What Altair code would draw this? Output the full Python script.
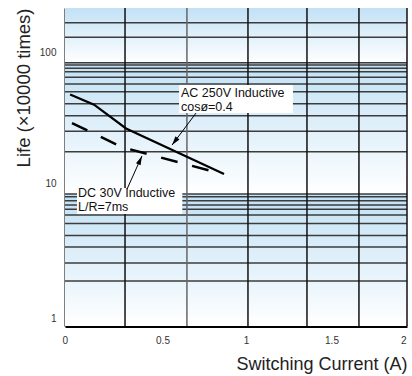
import altair as alt
import pandas as pd

# ---- axes ----
x_ticks = [0, 0.5, 1, 1.5, 2]
y_ticks = [1, 10, 100]
x_domain = [0, 2]
y_domain = [0.81, 217]

# ---- curves ----
ac_current = [0.03, 0.17, 0.357, 0.93]
ac_life = [47.5, 39.7, 26.1, 11.7]
dc_current = [0.041, 0.333, 0.924]
dc_life = [28.7, 18.8, 11.7]

# ---- grid ----
v_grid = [0.351, 0.713, 1.07, 1.415, 1.719, 2.0]
h_grid = [167.4, 129.5, 82.8, 79.6, 75.1, 70.7, 64.1, 57.0, 49.8, 40.3, 32.6, 24.9, 17.3,
          8.24, 7.86, 7.32, 6.79, 6.30, 5.70, 4.92, 3.97, 3.25, 2.45, 1.79]
band_top = [217, 82.8, 8.24]
band_bottom = [82.8, 8.24, 0.81]

# ---- annotations ----
ac_label = ["AC 250V Inductive", "cosø=0.4"]
dc_label = ["DC 30V Inductive", "L/R=7ms"]
ac_label_x = 0.678
ac_label_y = 45.3
dc_label_x = 0.076
dc_label_y = 7.89
ac_box = [0.667, 1.333, 56.0, 34.2]
dc_box = [0.070, 0.686, 9.16, 5.8]
ac_arrow_x = [0.766, 0.626]
ac_arrow_y = [34.2, 19.5]
dc_arrow_x = [0.363, 0.450]
dc_arrow_y = [9.0, 16.1]

FONT = "Liberation Sans"
W, H = 342, 318

xs = alt.Scale(domain=x_domain, nice=False, zero=False)
ys = alt.Scale(type="log", domain=y_domain, nice=False)

xaxis = alt.Axis(
    values=x_ticks, format="~g", grid=False, ticks=False,
    labelFont=FONT, labelFontSize=10, labelColor="#333", labelPadding=9,
    labelOffset={"expr": "datum.value==0?-3:datum.value==0.5?12:datum.value==1?10:datum.value==1.5?10:-1"},
    domainColor="#000", domainWidth=3,
    title="Switching Current (A)", titleFont=FONT, titleFontSize=18,
    titleFontWeight="normal", titleColor="#222", titleAnchor="end", titlePadding=10,
)
yaxis = alt.Axis(
    values=y_ticks, format="~g", grid=False, ticks=False,
    labelFont=FONT, labelFontSize=10, labelColor="#333", labelPadding=9,
    labelOffset={"expr": "datum.value==1?4:0"},
    domainColor="#000", domainWidth=2,
    title="Life (×10000 times)", titleFont=FONT, titleFontSize=18.5,
    titleFontWeight="normal", titleColor="#222", titleAnchor="end", titlePadding=6,
)


def X(f):
    return alt.X(f, type="quantitative", scale=xs, axis=xaxis)


def Y(f):
    return alt.Y(f, type="quantitative", scale=ys, axis=yaxis)


bands = pd.DataFrame({
    "x0": [x_domain[0]] * 3, "x1": [x_domain[1]] * 3,
    "top": band_top, "bottom": band_bottom,
})
grad = {
    "gradient": "linear", "x1": 0, "y1": 0, "x2": 0, "y2": 1,
    "stops": [{"offset": 0, "color": "#c2e1f5"}, {"offset": 1, "color": "#ffffff"}],
}
band_layer = alt.Chart(bands).mark_rect(fill=grad, strokeWidth=0).encode(
    x=X("x0"), x2=alt.X2("x1"), y=Y("top"), y2=alt.Y2("bottom")
)

hgrid_layer = alt.Chart(pd.DataFrame({"h": h_grid})).mark_rule(
    color="#3c3c3c", strokeWidth=1.5
).encode(y=Y("h"))

vgrid_layer = alt.Chart(pd.DataFrame({"v": v_grid})).mark_rule(strokeWidth=1.5).encode(
    x=X("v"),
    color=alt.condition("datum.v == 0.713", alt.value("#666"), alt.value("#111")),
)

boxes = pd.DataFrame({
    "bx0": [ac_box[0], dc_box[0]], "bx1": [ac_box[1], dc_box[1]],
    "by0": [ac_box[2], dc_box[2]], "by1": [ac_box[3], dc_box[3]],
})
box_layer = alt.Chart(boxes).mark_rect(fill="white", strokeWidth=0).encode(
    x=X("bx0"), x2=alt.X2("bx1"), y=Y("by0"), y2=alt.Y2("by1")
)

ac_df = pd.DataFrame({"cur": ac_current, "life": ac_life})
ac_layer = alt.Chart(ac_df).mark_line(color="#000", strokeWidth=2.2).encode(
    x=X("cur"), y=Y("life")
)
dc_df = pd.DataFrame({"cur": dc_current, "life": dc_life})
dc_layer = alt.Chart(dc_df).mark_line(
    color="#000", strokeWidth=2.5, strokeDash=[17, 15], strokeCap="butt"
).encode(x=X("cur"), y=Y("life"))

arrows = pd.DataFrame({
    "ax": ac_arrow_x + dc_arrow_x,
    "ay": ac_arrow_y + dc_arrow_y,
    "id": ["ac", "ac", "dc", "dc"],
    "o": [0, 1, 0, 1],
})
arrow_lines = alt.Chart(arrows).mark_line(color="#000", strokeWidth=1).encode(
    x=X("ax"), y=Y("ay"), detail="id:N", order="o:Q"
)
head_shape = "M0,0L-0.28,1L0.28,1Z"
ac_head = alt.Chart(pd.DataFrame({"ax": [ac_arrow_x[1]], "ay": [ac_arrow_y[1]]})).mark_point(
    shape=head_shape, filled=True, color="#000", size=324, angle=217, opacity=1
).encode(x=X("ax"), y=Y("ay"))
dc_head = alt.Chart(pd.DataFrame({"ax": [dc_arrow_x[1]], "ay": [dc_arrow_y[1]]})).mark_point(
    shape=head_shape, filled=True, color="#000", size=324, angle=24, opacity=1
).encode(x=X("ax"), y=Y("ay"))

texts = pd.DataFrame({
    "tx": [ac_label_x, dc_label_x],
    "ty": [ac_label_y, dc_label_y],
    "t": [ac_label, dc_label],
})
text_layer = alt.Chart(texts).mark_text(
    align="left", baseline="alphabetic", font=FONT, fontSize=12.5, lineHeight=14, color="#111"
).encode(x=X("tx"), y=Y("ty"), text="t")

chart = alt.layer(
    band_layer, hgrid_layer, vgrid_layer, box_layer,
    ac_layer, dc_layer, arrow_lines, ac_head, dc_head, text_layer,
).properties(
    width=W, height=H,
    autosize="none",
    padding={"left": 65, "top": 8, "right": 5, "bottom": 50},
    background="white",
).configure_view(stroke=None)

chart.save("out.html", embed_options={"renderer": "svg", "actions": False})
